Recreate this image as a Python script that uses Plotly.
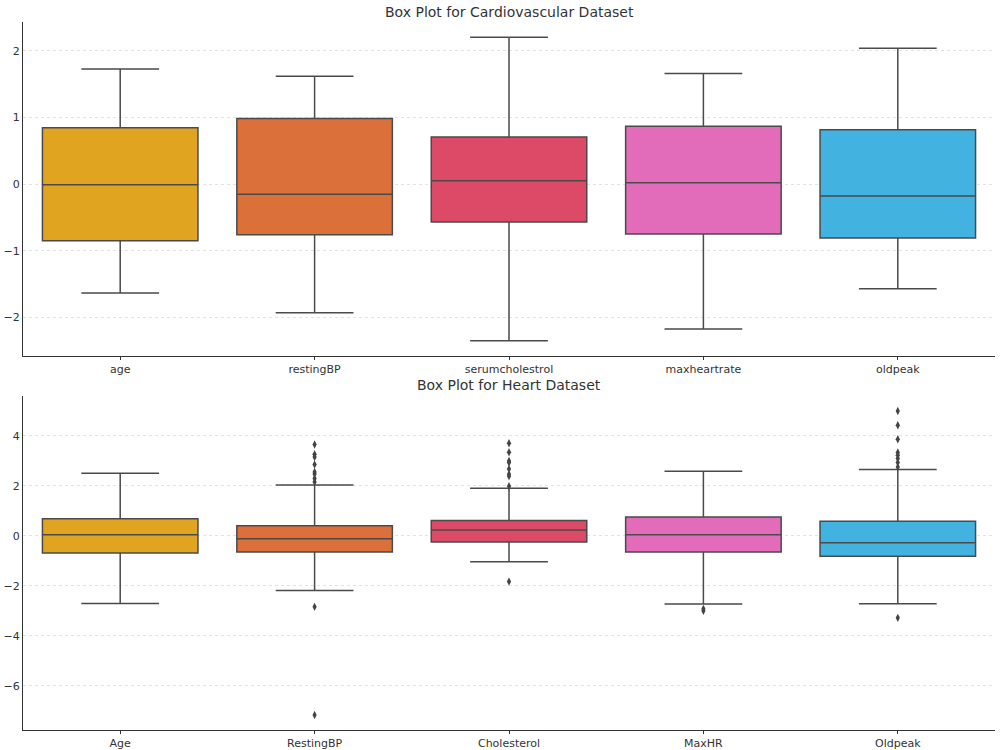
import plotly.graph_objects as go
from plotly.subplots import make_subplots

# ---- Data (standardized values) ----
cardio_cats = ["age", "restingBP", "serumcholestrol", "maxheartrate", "oldpeak"]
cardio_q1 = [-0.85, -0.76, -0.57, -0.75, -0.81]
cardio_median = [-0.01, -0.155, 0.05, 0.02, -0.18]
cardio_q3 = [0.843, 0.983, 0.704, 0.868, 0.813]
cardio_low = [-1.636, -1.93, -2.35, -2.175, -1.572]
cardio_high = [1.726, 1.617, 2.2, 1.657, 2.036]

heart_cats = ["Age", "RestingBP", "Cholesterol", "MaxHR", "Oldpeak"]
heart_q1 = [-0.69, -0.65, -0.24, -0.65, -0.82]
heart_median = [0.05, -0.11, 0.24, 0.05, -0.27]
heart_q3 = [0.69, 0.41, 0.62, 0.76, 0.59]
heart_low = [-2.71, -2.19, -1.04, -2.73, -2.72]
heart_high = [2.51, 2.04, 1.91, 2.59, 2.66]

heart_outliers = {
    "Age": [],
    "RestingBP": [3.66, 3.27, 3.16, 2.86, 2.56, 2.48, 2.30, 2.16, -2.84, -7.17],
    "Cholesterol": [3.71, 3.35, 3.0, 2.94, 2.68, 2.47, 2.39, 1.99, -1.83],
    "MaxHR": [-2.92, -3.0],
    "Oldpeak": [5.0, 4.43, 3.87, 3.34, 3.23, 3.1, 2.94, 2.76, -3.28],
}

colors = ["#E0A421", "#DB703A", "#DD4A67", "#E36CBA", "#42B3E1"]

fig = make_subplots(rows=2, cols=1, vertical_spacing=0.0565)

EDGE = "#4a4a4a"

def add_boxes(cats, q1, med, q3, lo, hi, row):
    for i, c in enumerate(cats):
        fig.add_trace(go.Box(
            x=[c], q1=[q1[i]], median=[med[i]], q3=[q3[i]],
            lowerfence=[lo[i]], upperfence=[hi[i]],
            fillcolor=colors[i], line=dict(color=EDGE, width=1.5),
            width=0.8, whiskerwidth=0.5, boxpoints=False,
            showlegend=False, hoverinfo="y",
        ), row=row, col=1)

add_boxes(cardio_cats, cardio_q1, cardio_median, cardio_q3, cardio_low, cardio_high, 1)
add_boxes(heart_cats, heart_q1, heart_median, heart_q3, heart_low, heart_high, 2)

for c in heart_cats:
    vals = heart_outliers[c]
    if vals:
        fig.add_trace(go.Scatter(
            x=[c] * len(vals), y=vals, mode="markers",
            marker=dict(symbol="diamond-tall", size=6, color="#444444"),
            showlegend=False,
        ), row=2, col=1)

axis_common = dict(showline=True, linecolor="#333333", linewidth=1,
                   tickfont=dict(family="DejaVu Sans", size=11, color="#333333"),
                   zeroline=False, automargin=False)

fig.update_xaxes(**axis_common, showgrid=False, ticks="outside", ticklen=3,
                 tickcolor="#333333", range=[-0.5, 4.5])
fig.update_yaxes(**axis_common, showgrid=True, gridcolor="#e3e3e3", griddash="dot",
                 gridwidth=1, ticks="")
fig.update_yaxes(range=[-2.58, 2.43], dtick=1, domain=[0.5282, 1.0], row=1, col=1)
fig.update_yaxes(range=[-7.77, 5.6], dtick=2, domain=[0.0, 0.4718], row=2, col=1)

fig.update_layout(
    width=1000, height=750,
    margin=dict(l=23, r=5, t=22, b=20),
    plot_bgcolor="white", paper_bgcolor="white",
    boxmode="overlay",
    font=dict(family="DejaVu Sans", color="#333333"),
    annotations=[
        dict(text="Box Plot for Cardiovascular Dataset", x=0.5, y=1, xref="paper",
             yref="paper", yanchor="bottom", yshift=0, showarrow=False,
             font=dict(size=14, color="#333333")),
        dict(text="Box Plot for Heart Dataset", x=0.5, y=0.4718, xref="paper",
             yref="paper", yanchor="bottom", yshift=1, showarrow=False,
             font=dict(size=14, color="#333333")),
    ],
)

fig.write_html("out.html")
